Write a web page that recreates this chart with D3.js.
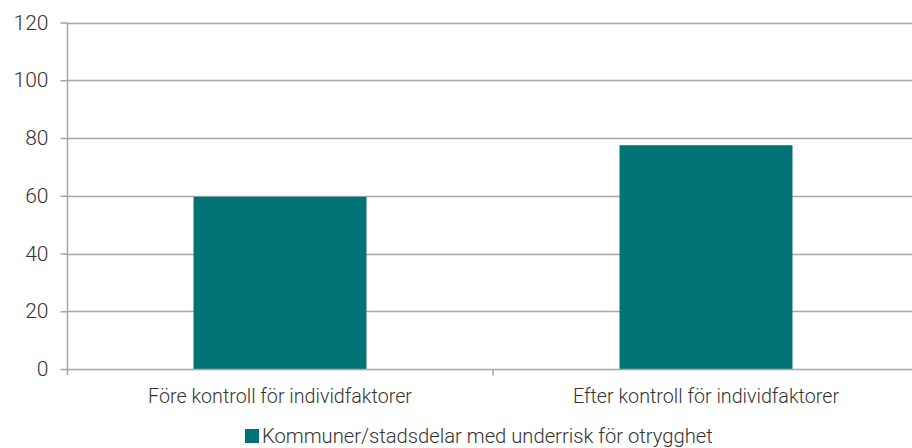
<!DOCTYPE html>
<html>
<head>
<meta charset="utf-8">
<script src="https://cdn.jsdelivr.net/npm/d3@7"></script>
<style>
  body { margin: 0; background: #fff; }
  text { font-family: Roboto, "Liberation Sans", sans-serif; font-weight: 300; fill: #333; }
</style>
</head>
<body>
<div id="chart"></div>
<script>
var width = 912, height = 448;

var categories = ["Före kontroll för individfaktorer", "Efter kontroll för individfaktorer"];
var values = [59.6, 77.5];
var yTicks = [0, 20, 40, 60, 80, 100, 120];
var seriesName = "Kommuner/stadsdelar med underrisk för otrygghet";

var margin = { left: 67, right: -7, top: 22.5, bottom: 79 };

var svg = d3.select("#chart")
    .append("svg")
    .attr("width", width)
    .attr("height", height);

var x = d3.scaleBand()
    .domain(categories)
    .range([margin.left, width - margin.right])
    .paddingInner(0.594)
    .paddingOuter(0.297);

var y = d3.scaleLinear()
    .domain([0, 120])
    .range([height - margin.bottom, margin.top]);

// gridlines
svg.append("g")
    .selectAll("line")
    .data(yTicks.slice(1))
    .enter()
    .append("line")
    .attr("x1", margin.left)
    .attr("x2", width - margin.right)
    .attr("y1", function (d) { return Math.round(y(d)) + 0.5; })
    .attr("y2", function (d) { return Math.round(y(d)) + 0.5; })
    .style("stroke", "#a6a6a6")
    .style("stroke-width", 1.5);

// bars
svg.append("g")
    .selectAll("rect")
    .data(values)
    .enter()
    .append("rect")
    .attr("x", function (d, i) { return x(categories[i]); })
    .attr("width", x.bandwidth())
    .attr("y", function (d) { return y(d); })
    .attr("height", function (d) { return y(0) - y(d); })
    .style("fill", "#007377");

// y axis
var yAxis = d3.axisLeft(y)
    .tickValues(yTicks)
    .tickSize(7)
    .tickPadding(12);

var yg = svg.append("g")
    .attr("transform", "translate(" + (margin.left + 0.5) + ",0)")
    .call(yAxis);
yg.selectAll("line").style("stroke", "#a6a6a6").style("stroke-width", 1.5);
yg.select(".domain").attr("d", "M0," + (y(120)) + "V" + (y(0) + 6)).style("stroke", "#a6a6a6").style("stroke-width", 1.5);
yg.selectAll("text").style("font-size", "21px").style("font-family", null).attr("fill", null);

// x axis
var x0 = Math.round(y(0)) + 0.5;
var xg = svg.append("g");
xg.append("line")
    .attr("x1", margin.left)
    .attr("x2", width)
    .attr("y1", x0)
    .attr("y2", x0)
    .style("stroke", "#a6a6a6")
    .style("stroke-width", 1.5);
xg.append("line")
    .attr("x1", x(categories[1]) - x.step() * x.paddingInner() / 2)
    .attr("x2", x(categories[1]) - x.step() * x.paddingInner() / 2)
    .attr("y1", x0)
    .attr("y2", x0 + 6)
    .style("stroke", "#a6a6a6")
    .style("stroke-width", 1.5);
xg.selectAll("text.cat")
    .data(categories)
    .enter()
    .append("text")
    .attr("class", "cat")
    .attr("x", function (d) { return x(d) + x.bandwidth() / 2; })
    .attr("y", 403)
    .attr("text-anchor", "middle")
    .style("font-size", "19.7px")
    .text(function (d) { return d; });

// legend
var legend = svg.append("g");
legend.append("rect")
    .attr("x", 245)
    .attr("y", 429)
    .attr("width", 14)
    .attr("height", 14)
    .style("fill", "#007377");
legend.append("text")
    .attr("x", 262)
    .attr("y", 443)
    .style("font-size", "20.2px")
    .text(seriesName);
</script>
</body>
</html>
